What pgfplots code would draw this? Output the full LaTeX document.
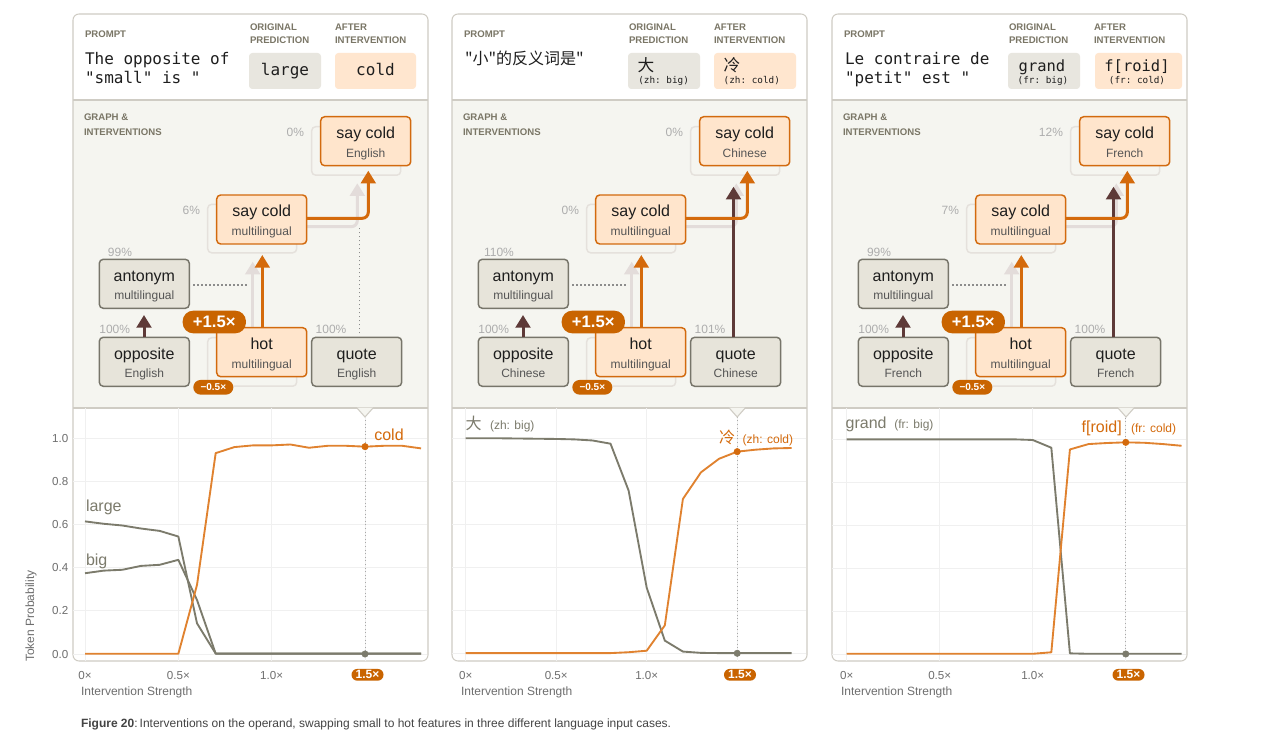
\documentclass[border=0pt]{standalone}
\usepackage{fontspec}
\setmainfont{Liberation Sans}
\setmonofont{DejaVu Sans Mono}
\newfontfamily\cjk{Noto Sans CJK SC}
\usepackage{pgfplots}
\usepackage{pgfplotstable}
\pgfplotsset{compat=1.18}
\usetikzlibrary{arrows.meta}

\definecolor{bordc}{HTML}{CFCCC4}
\definecolor{bgc}{HTML}{F5F5F0}
\definecolor{hdrc}{HTML}{7A7666}
\definecolor{gfill}{HTML}{E7E4DA}
\definecolor{gbord}{HTML}{77756A}
\definecolor{ofill}{HTML}{FFE5CC}
\definecolor{obord}{HTML}{D26A0E}
\definecolor{badge}{HTML}{C96400}
\definecolor{ocol}{HTML}{D46A0C}
\definecolor{brownc}{HTML}{5E3A38}
\definecolor{ghost}{HTML}{E5E1DC}
\definecolor{ghostarr}{HTML}{E3DCDA}
\definecolor{pctc}{HTML}{ADADAD}
\definecolor{subc}{HTML}{555555}
\definecolor{tickc}{HTML}{6E6E6E}
\definecolor{lorange}{HTML}{E0822F}
\definecolor{lgray}{HTML}{7C7B6C}
\definecolor{gridc}{HTML}{F0F0F0}
\definecolor{dotc}{HTML}{8C8C8C}
\definecolor{vdotc}{HTML}{A8A8A8}
\definecolor{predg}{HTML}{E8E6DF}
\definecolor{predo}{HTML}{FFE6CF}
\definecolor{txtc}{HTML}{1E1E1E}
\definecolor{capc}{HTML}{444444}

\newcommand\fs[2]{\fontsize{#1}{#2}\selectfont}

\pgfplotstableread{
x large big cold
0.0 0.614 0.374 0.001
0.1 0.603 0.386 0.001
0.2 0.595 0.390 0.001
0.3 0.581 0.408 0.001
0.4 0.570 0.413 0.001
0.5 0.544 0.436 0.001
0.6 0.142 0.250 0.320
0.7 0.002 0.002 0.930
0.8 0.002 0.002 0.958
0.9 0.002 0.002 0.966
1.0 0.002 0.002 0.966
1.1 0.002 0.002 0.970
1.2 0.002 0.002 0.955
1.3 0.002 0.002 0.964
1.4 0.002 0.002 0.964
1.5 0.002 0.002 0.960
1.6 0.002 0.002 0.964
1.7 0.002 0.002 0.964
1.8 0.002 0.002 0.952
}\tabA

\pgfplotstableread{
x big cold
0.0 1.000 0.001
0.1 1.000 0.001
0.2 1.000 0.001
0.3 0.999 0.001
0.4 0.998 0.001
0.5 0.997 0.001
0.6 0.995 0.001
0.7 0.990 0.001
0.8 0.975 0.001
0.9 0.757 0.005
1.0 0.305 0.012
1.1 0.059 0.130
1.2 0.008 0.718
1.3 0.002 0.842
1.4 0.001 0.905
1.5 0.001 0.938
1.6 0.001 0.947
1.7 0.001 0.953
1.8 0.001 0.955
}\tabB

\pgfplotstableread{
x big cold
0.0 1.000 0.001
0.1 1.000 0.001
0.2 1.000 0.001
0.3 1.000 0.001
0.4 1.000 0.001
0.5 1.000 0.001
0.6 1.000 0.001
0.7 1.000 0.001
0.8 1.000 0.001
0.9 1.000 0.001
1.0 0.997 0.001
1.1 0.961 0.008
1.2 0.003 0.953
1.3 0.001 0.978
1.4 0.001 0.983
1.5 0.001 0.986
1.6 0.001 0.984
1.7 0.001 0.978
1.8 0.001 0.970
}\tabC

\pgfplotsset{chart/.style={scale only axis, width=265.5pt, height=189.75pt,
  anchor=south west, axis line style={draw=none}, major tick length=0pt,
  xtick={0,0.5,1,1.5}, xticklabels={0×,0.5×,1.0×,{}},
  ytick={0,0.2,0.4,0.6,0.8,1},
  grid=major, grid style={gridc, line width=0.75pt},
  tick label style={font=\fs{8.7}{10}, text=tickc},
  xticklabel style={yshift=-4pt},
  clip=false}}

\tikzset{
  tx/.style={inner sep=0pt, outer sep=0pt},
  pct/.style={tx, font=\fs{9}{10}, text=pctc},
  arr/.style={line width=2.25pt, -{Triangle[width=11pt,length=9.5pt]}},
  hdr/.style={tx, font=\bfseries\fs{7.2}{8}, text=hdrc, anchor=base west},
}

\newcommand\obox[4]{%
  \draw[obord, fill=ofill, line width=1.1pt, rounded corners=3pt] (#1,-#2) rectangle ++(90,-49);
  \node[tx, anchor=base, font=\fs{12}{14}, text=txtc] at (#1+45,-#2-22) {#3};
  \node[tx, anchor=base, font=\fs{9}{11}, text=subc] at (#1+45,-#2-40.5) {#4};}
\newcommand\gbox[4]{%
  \draw[gbord, fill=gfill, line width=1.1pt, rounded corners=3pt] (#1,-#2) rectangle ++(90,-49);
  \node[tx, anchor=base, font=\fs{12}{14}, text=txtc] at (#1+45,-#2-22) {#3};
  \node[tx, anchor=base, font=\fs{9}{11}, text=subc] at (#1+45,-#2-40.5) {#4};}
\newcommand\ghbox[2]{%
  \draw[ghost, line width=1.1pt, rounded corners=3pt] (#1,-#2) rectangle ++(89,-48.5);}

\newcommand\diagram[7]{%
  \ghbox{311.7}{126.7}
  \ghbox{207.7}{204.3}
  \ghbox{207.7}{337.7}
  \draw[ghostarr, arr] (252.7,-337.7) -- (252.7,-261.7);
  \draw[ghostarr, arr, rounded corners=4.5pt] (296.7,-226.7) -- (357.3,-226.7) -- (357.3,-183.3);
  \draw[dotc, dotted, line width=1pt] (193.3,-285) -- (246.7,-285);
  \ifnum#7=1 \draw[dotc, dotted, line width=1pt] (359.3,-333.3) -- (359.3,-226.7); \fi
  \obox{320.7}{116.7}{say cold}{#1}
  \obox{216.7}{195}{say cold}{multilingual}
  \gbox{99.3}{259.3}{antonym}{multilingual}
  \gbox{99.3}{337.3}{opposite}{#1}
  \gbox{311.7}{337.3}{quote}{#1}
  \obox{216.7}{327.7}{hot}{multilingual}
  \draw[brownc, arr] (144,-337.3) -- (144,-315);
  \draw[ocol, arr] (262.3,-327.7) -- (262.3,-255);
  \ifnum#7=0 \draw[brownc, arr] (354.5,-337.3) -- (354.5,-186.7); \fi
  \draw[ocol, arr, rounded corners=4.5pt] (306,-218.3) -- (368.3,-218.3) -- (368.3,-170.7);
  \node[pct, anchor=east] at (304,-132) {#2};
  \node[pct, anchor=east] at (200,-210) {#3};
  \node[pct] at (120,-252) {#4};
  \node[pct] at (114.7,-329.3) {#5};
  \node[pct] at (331,-329.3) {#6};
  \node[tx, fill=badge, text=white, font=\bfseries\fs{12.5}{14}, rounded corners=8pt,
        minimum width=47.5pt, minimum height=17pt] at (214.3,-322) {+1.5×};
  \node[tx, fill=badge, text=white, font=\bfseries\fs{7.5}{9}, rounded corners=5.5pt,
        minimum width=30pt, minimum height=11pt] at (213.3,-387.3) {−0.5×};
}

\begin{document}
\begin{tikzpicture}[x=0.75pt,y=0.75pt]
\fill[white] (0,0) rectangle (1284,-752);

\foreach \dx in {0,379,759}{
\begin{scope}[shift={(\dx,0)}]
  \fill[white, rounded corners=4.5pt] (73,-14) rectangle (428,-661);
  \fill[bgc] (73.4,-100) rectangle (427.6,-408);
  \draw[bordc, line width=0.8pt, rounded corners=4.5pt] (73,-14) rectangle (428,-661);
  \draw[bordc, line width=0.8pt] (73,-100) -- (428,-100);
  \draw[bordc, line width=0.8pt] (73,-408) -- (428,-408);
  \node[hdr] at (85,-37.3) {PROMPT};
  \node[hdr] at (250,-30.7) {ORIGINAL};
  \node[hdr] at (250,-43.3) {PREDICTION};
  \node[hdr] at (335,-30.7) {AFTER};
  \node[hdr] at (335,-43.3) {INTERVENTION};
  \node[hdr] at (84,-121) {GRAPH \&};
  \node[hdr] at (84,-135.3) {INTERVENTIONS};
  \fill[predg, rounded corners=2.5pt] (249,-53) rectangle (321,-89);
\end{scope}
}
% after-intervention boxes
\fill[predo, rounded corners=2.5pt] (335,-53) rectangle (416,-89);
\fill[predo, rounded corners=2.5pt] (714,-53) rectangle (796,-89);
\fill[predo, rounded corners=2.5pt] (1095,-53) rectangle (1182,-89);

% prompt texts
\node[tx, anchor=base west, font=\ttfamily\fs{12}{14}, text=txtc] at (85,-65) {The opposite of};
\node[tx, anchor=base west, font=\ttfamily\fs{12}{14}, text=txtc] at (85,-84) {"small" is "};
\node[tx, anchor=base, font=\ttfamily\fs{12}{14}, text=txtc] at (285,-76) {large};
\node[tx, anchor=base, font=\ttfamily\fs{12}{14}, text=txtc] at (375.5,-76) {cold};

\node[tx, anchor=base west, font=\cjk\fs{12}{14}, text=txtc] at (465,-65) {"小"的反义词是"};
\node[tx, anchor=base west, font=\cjk\fs{12.5}{14}, text=txtc] at (637.7,-71.7) {大};
\node[tx, anchor=base west, font=\ttfamily\fs{7}{8}, text=txtc] at (638.3,-84) {(zh: big)};
\node[tx, anchor=base west, font=\cjk\fs{12.5}{14}, text=txtc] at (723.7,-71.7) {冷};
\node[tx, anchor=base west, font=\ttfamily\fs{7}{8}, text=txtc] at (723.7,-84) {(zh: cold)};

\node[tx, anchor=base west, font=\ttfamily\fs{12}{14}, text=txtc] at (845,-65) {Le contraire de};
\node[tx, anchor=base west, font=\ttfamily\fs{12}{14}, text=txtc] at (845,-84) {"petit" est "};
\node[tx, anchor=base, font=\ttfamily\fs{11.6}{14}, text=txtc] at (1042,-71.7) {grand};
\node[tx, anchor=base, font=\ttfamily\fs{7}{8}, text=txtc] at (1043,-84) {(fr: big)};
\node[tx, anchor=base, font=\ttfamily\fs{11.6}{14}, text=txtc] at (1137,-71.7) {f[roid]};
\node[tx, anchor=base, font=\ttfamily\fs{7}{8}, text=txtc] at (1137,-84) {(fr: cold)};

% diagrams
\begin{scope}\diagram{English}{0\%}{6\%}{99\%}{100\%}{100\%}{1}\end{scope}
\begin{scope}[shift={(379,0)}]\diagram{Chinese}{0\%}{0\%}{110\%}{100\%}{101\%}{0}\end{scope}
\begin{scope}[shift={(759,0)}]\diagram{French}{12\%}{7\%}{99\%}{100\%}{100\%}{0}\end{scope}

% charts
\begin{axis}[chart, at={(54.75pt,-495.75pt)}, xmin=-0.0643, xmax=1.832, ymin=-0.0324, ymax=1.139,
  yticklabels={0.0,0.2,0.4,0.6,0.8,1.0}]
\draw[vdotc, dotted, line width=0.7pt] (axis cs:1.5,1.10) -- (axis cs:1.5,0);
\addplot[lgray, line width=1.4pt, line join=round] table[x=x,y=large]{\tabA};
\addplot[lgray, line width=1.4pt, line join=round] table[x=x,y=big]{\tabA};
\addplot[lorange, line width=1.4pt, line join=round] table[x=x,y=cold]{\tabA};
\addplot[only marks, mark=*, mark size=2.4pt, color=ocol] coordinates {(1.5,0.960)};
\addplot[only marks, mark=*, mark size=2.4pt, color=lgray] coordinates {(1.5,0)};
\end{axis}

\begin{axis}[chart, at={(339pt,-495.75pt)}, xmin=-0.0757, xmax=1.880, ymin=-0.0358, ymax=1.141,
  yticklabels={,,,,,}]
\draw[vdotc, dotted, line width=0.7pt] (axis cs:1.5,1.10) -- (axis cs:1.5,0);
\addplot[lgray, line width=1.4pt, line join=round] table[x=x,y=big]{\tabB};
\addplot[lorange, line width=1.4pt, line join=round] table[x=x,y=cold]{\tabB};
\addplot[only marks, mark=*, mark size=2.4pt, color=ocol] coordinates {(1.5,0.938)};
\addplot[only marks, mark=*, mark size=2.4pt, color=lgray] coordinates {(1.5,0)};
\end{axis}

\begin{axis}[chart, at={(624pt,-495.75pt)}, xmin=-0.079, xmax=1.824, ymin=-0.0326, ymax=1.146,
  yticklabels={,,,,,}]
\draw[vdotc, dotted, line width=0.7pt] (axis cs:1.5,1.10) -- (axis cs:1.5,0);
\addplot[lgray, line width=1.4pt, line join=round] table[x=x,y=big]{\tabC};
\addplot[lorange, line width=1.4pt, line join=round] table[x=x,y=cold]{\tabC};
\addplot[only marks, mark=*, mark size=2.4pt, color=ocol] coordinates {(1.5,0.986)};
\addplot[only marks, mark=*, mark size=2.4pt, color=lgray] coordinates {(1.5,0)};
\end{axis}

% notches
\foreach \nx in {365,737.2,1126}{
  \fill[bgc] (\nx-8,-407.6) -- (\nx,-417) -- (\nx+8,-407.6) -- cycle;
  \draw[bordc, line width=0.8pt] (\nx-8,-408) -- (\nx,-417) -- (\nx+8,-408);
}

% chart labels
\node[tx, anchor=base west, font=\fs{12}{14}, text=lgray] at (86,-511) {large};
\node[tx, anchor=base west, font=\fs{12}{14}, text=lgray] at (86,-565) {big};
\node[tx, anchor=base west, font=\fs{12}{14}, text=ocol] at (374.3,-440) {cold};

\node[tx, anchor=base west, font=\cjk\fs{12}{14}, text=lgray] at (465.7,-429.3) {大};
\node[tx, anchor=base west, font=\fs{9}{11}, text=lgray] at (490,-429.3) {(zh: big)};
\node[tx, anchor=base west, font=\cjk\fs{12}{14}, text=ocol] at (719,-443.3) {冷};
\node[tx, anchor=base west, font=\fs{9}{11}, text=ocol] at (742.7,-443.3) {(zh: cold)};

\node[tx, anchor=base west, font=\fs{12}{14}, text=lgray] at (845.7,-428.3) {grand};
\node[tx, anchor=base west, font=\fs{9}{11}, text=lgray] at (894.3,-428.3) {(fr: big)};
\node[tx, anchor=base west, font=\fs{12}{14}, text=ocol] at (1081.7,-432.3) {f[roid]};
\node[tx, anchor=base west, font=\fs{9}{11}, text=ocol] at (1131,-432.3) {(fr: cold)};

% x badges
\foreach \bx in {367.5,740,1128.5}{
  \node[tx, fill=badge, text=white, font=\bfseries\fs{9}{10}, rounded corners=4.3pt,
        minimum width=24pt, minimum height=8.8pt] at (\bx,-674.8) {1.5×};
}

% axis titles
\node[tx, rotate=90, font=\fs{9}{10}, text=tickc] at (31,-616) {Token Probability};
\foreach \lx in {81,461,841}{
  \node[tx, anchor=base west, font=\fs{9}{10}, text=tickc] at (\lx,-695) {Intervention Strength};
}

% caption
\node[tx, anchor=base west, font=\fs{9}{10}, text=capc] at (81,-727)
  {\textbf{Figure 20}:\,Interventions on the operand, swapping small to hot features in three different language input cases.};
\end{tikzpicture}
\end{document}
